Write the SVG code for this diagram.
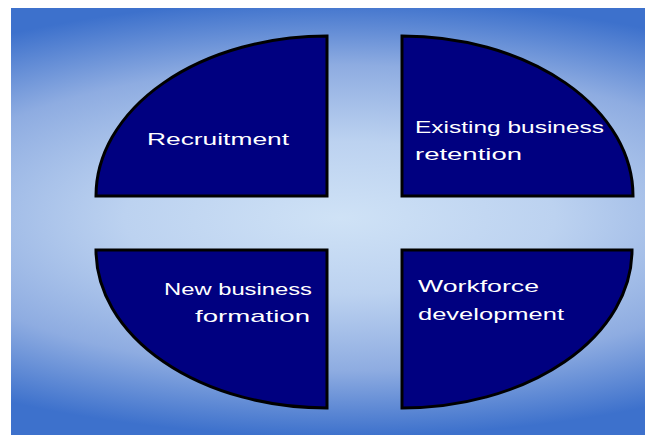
<svg xmlns="http://www.w3.org/2000/svg" width="645" height="435" viewBox="0 0 645 435">
  <defs>
    <!-- soft light centre fading to a deeper blue at the edges -->
    <radialGradient id="bg" gradientUnits="userSpaceOnUse" cx="340" cy="218" r="212" gradientTransform="translate(340 218) scale(2.9 1.03) translate(-340 -218)">
      <stop offset="0" stop-color="#cfe2f6"/>
      <stop offset="0.35" stop-color="#bcd2f0"/>
      <stop offset="0.7" stop-color="#8eace1"/>
      <stop offset="1" stop-color="#3d71cc"/>
    </radialGradient>
  </defs>
  <style>
    .quad { fill: #000080; stroke: #000000; stroke-width: 3; stroke-linejoin: miter; }
    .lbl { fill: #ffffff; font-family: "Liberation Sans", Arial, sans-serif; font-size: 17px; }
  </style>

  <rect x="11" y="8" width="634" height="427" fill="url(#bg)"/>

  <g id="recruitment">
    <path class="quad" d="M96,196 A231,160 0 0 1 327,36 L327,196 Z"/>
    <text class="lbl" x="147" y="145" textLength="142" lengthAdjust="spacingAndGlyphs">Recruitment</text>
  </g>

  <g id="existing-business-retention">
    <path class="quad" d="M402,36 A231,160 0 0 1 633,196 L402,196 Z"/>
    <text class="lbl" x="415" y="133" textLength="189" lengthAdjust="spacingAndGlyphs">Existing business</text>
    <text class="lbl" x="415" y="160" textLength="107" lengthAdjust="spacingAndGlyphs">retention</text>
  </g>

  <g id="new-business-formation">
    <path class="quad" d="M96,250 L327,250 L327,408 A231,158 0 0 1 96,250 Z"/>
    <text class="lbl" x="164" y="295" textLength="148" lengthAdjust="spacingAndGlyphs">New business</text>
    <text class="lbl" x="195" y="322" textLength="115" lengthAdjust="spacingAndGlyphs">formation</text>
  </g>

  <g id="workforce-development">
    <path class="quad" d="M402,250 L632,250 A230,158 0 0 1 402,408 Z"/>
    <text class="lbl" x="418" y="292" textLength="121" lengthAdjust="spacingAndGlyphs">Workforce</text>
    <text class="lbl" x="418" y="320" textLength="146" lengthAdjust="spacingAndGlyphs">development</text>
  </g>

  <g id="connectors"/>
</svg>
